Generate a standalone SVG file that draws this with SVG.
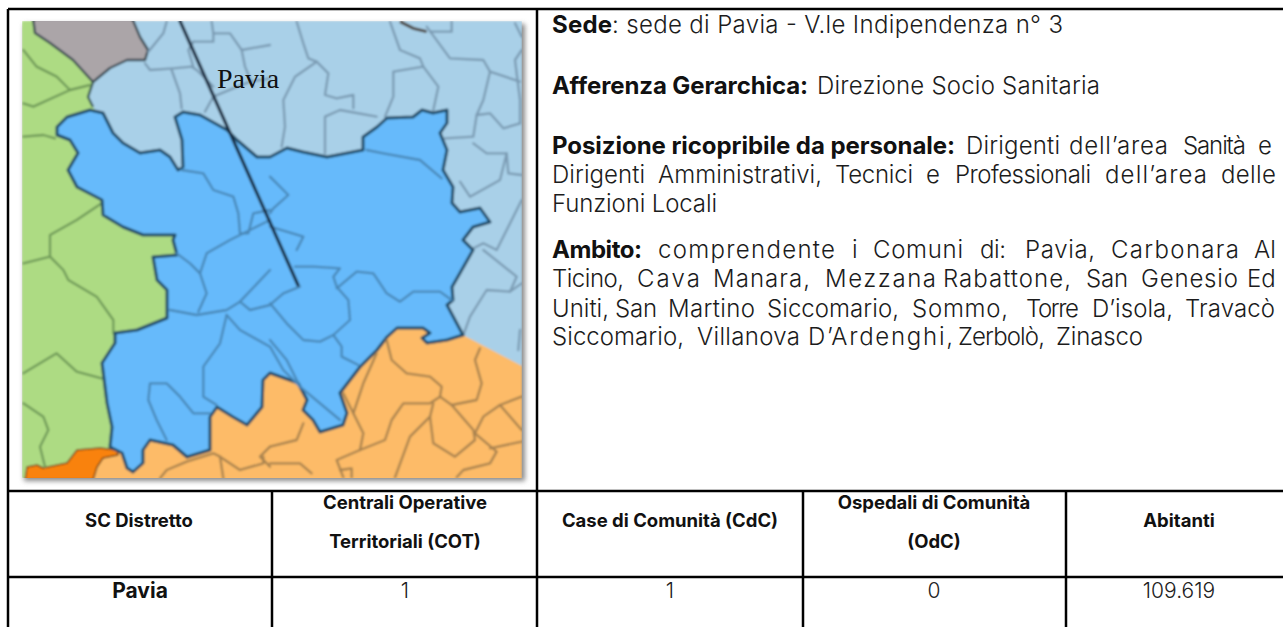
<svg xmlns="http://www.w3.org/2000/svg" width="1283" height="627" viewBox="0 0 1283 627">
<defs>
<filter id="soft" x="-5%" y="-5%" width="110%" height="110%"><feGaussianBlur stdDeviation="0.8"/></filter>
<filter id="shadow" x="-5%" y="-5%" width="110%" height="110%"><feGaussianBlur stdDeviation="2.5"/></filter>
<clipPath id="mapclip"><rect x="22" y="21" width="500" height="457"/></clipPath>
</defs>
<style>
.t{font-family:"Inter","Liberation Sans",sans-serif;font-size:24px;fill:#1c1c1c;font-weight:300}
.b{font-weight:700;fill:#111;font-size:24px}
.h{font-family:"Inter","Liberation Sans",sans-serif;font-size:18.5px;font-weight:700;fill:#111;text-anchor:middle}
.v{font-family:"Inter","Liberation Sans",sans-serif;font-size:21px;font-weight:300;fill:#222;text-anchor:middle}
.g{stroke:#000;stroke-width:2.5;fill:none}
.l{fill:none;stroke-width:7;stroke-linejoin:round;stroke-linecap:round}
.lb{stroke:#7b9bb3}.bl{stroke:#4a88b8}.gr{stroke:#6f9a58}.or{stroke:#a8824f}
</style>
<rect width="1283" height="627" fill="#fff"/>
<g id="map">
<rect x="24" y="24" width="501" height="457" fill="#8a8a8a" filter="url(#shadow)"/>
<g clip-path="url(#mapclip)"><g filter="url(#soft)">
<rect x="22" y="21" width="500" height="457" fill="#a9d0e8"/>
<polygon fill="#addb83" points="22,21 33,21 35,33 50,43 73,60 93,82 88,97 93,107 200,250 120,447 100,478 22,478"/>
<polygon fill="#aba5a8" stroke="#3b4a52" stroke-width="2.4" stroke-linejoin="round" points="33,18 35,33 50,43 73,60 93,82 110,68 127,60 145,60 148,50 140,37 132,18"/>
<polygon fill="#fdbb67" points="93,480 97,467 103,458 118,450 150,430 250,360 420,320 463,335 522,366 522,480"/>
<polygon fill="#f9820f" stroke="#7a4a10" stroke-width="1.5" stroke-linejoin="round" points="27,467 37,465 43,468 67,463 77,450 100,448 117,450 118,455 103,458 97,467 93,480 25,480"/>
<path d="M93,82 L88,97 L93,107" fill="none" stroke="#3b5a55" stroke-width="2.4"/>
<g transform="scale(.33333)">
<g class="l lb">
<path d="M500,65 490,100 445,155"/>
<path d="M435,190 450,210 520,205 575,200 590,210 640,260"/>
<path d="M515,210 540,280 545,325"/>
<path d="M615,335 640,290 700,265 750,245 810,235"/>
<path d="M580,125 640,125 640,100 635,65"/>
<path d="M640,100 690,100 725,150 810,135"/>
<path d="M725,150 735,200 760,260"/>
<path d="M580,125 565,150 580,200"/>
</g>
<g class="l gr">
<path d="M70,150 110,200 170,230 210,270"/>
<path d="M70,310 100,320 210,270 270,255"/>
<path d="M70,410 130,405 165,415"/>
<path d="M305,610 230,660 150,705 150,750 150,770 70,790"/>
<path d="M150,770 190,810 205,840 290,890 340,960 340,1000"/>
<path d="M70,1120 170,1060 230,1115 305,1135"/>
<path d="M70,1210 130,1250 145,1290 120,1340 135,1400"/>
</g>
</g>
<g transform="translate(270,0) scale(.33333)">
<g class="l lb">
<path d="M80,65 100,130 115,175 140,185 75,230 40,300 45,380 35,440"/>
<path d="M140,185 175,220 165,285 200,295 250,285 250,325"/>
<path d="M165,460 165,350 210,330 320,350"/>
<path d="M360,65 390,150 450,175 460,200 370,215 370,290 345,350"/>
<path d="M460,200 505,260 490,330"/>
<path d="M480,95 545,95 545,65"/>
<path d="M470,80 540,175 640,180 660,215 640,300 620,345 660,340 700,385 750,370"/>
<path d="M660,215 750,245"/>
<path d="M620,345 610,410 525,415"/>
<path d="M610,430 650,460 710,460 715,520 755,525"/>
<path d="M710,460 690,540 600,590 570,545"/>
<path d="M755,600 730,650 680,750 640,730 600,750"/>
<path d="M735,70 755,110"/>
<path d="M755,150 735,180 750,300 750,370"/>
</g>
<path d="M390,65 430,85 470,95" fill="none" stroke="#4a4038" stroke-width="9"/>
</g>
<g transform="translate(270,240) scale(.33333)">
<g class="l lb">
<path d="M640,30 740,110 720,155 650,150 600,230 580,285"/>
<path d="M720,155 755,130"/>
<path d="M750,270 745,330"/>
</g>
</g>
<polygon fill="#66bafb" stroke="#1d4a66" stroke-width="3" stroke-linejoin="round" points="57,127 67,117 90,110 103,113 113,133 123,143 140,153 160,150 170,157 178,170 183,167 182,140 175,117 183,112 200,115 227,130 237,140 257,157 270,157 287,148 303,152 327,157 363,150 363,137 377,127 387,118 413,117 422,110 433,113 447,110 447,123 440,133 447,150 443,170 453,187 452,203 460,212 480,208 490,222 473,227 463,240 473,250 460,273 452,287 453,300 447,305 463,335 447,340 427,343 422,338 430,333 423,328 397,328 387,337 377,350 360,367 340,393 347,413 343,425 320,432 313,420 303,410 307,400 298,383 270,373 263,380 262,407 247,425 233,417 217,407 210,417 210,450 187,457 173,445 150,440 143,450 143,463 133,472 127,468 122,453 110,447 112,427 107,403 102,363 115,343 115,333 137,330 167,318 167,290 157,280 153,257 177,255 173,240 175,235 143,235 123,227 103,215 102,200 77,187 68,170 78,153 70,140 57,135"/>
<g class="l bl" transform="scale(.33333)">
<path d="M545,510 610,520 640,570 700,590 715,640 720,700 745,700 760,640 810,630"/>
<path d="M530,760 570,790 600,820 620,880 595,935"/>
<path d="M600,820 620,760 690,720 810,660"/>
<path d="M510,930 590,945 680,930 720,905 810,810"/>
<path d="M720,905 750,930 810,915 850,880 900,860"/>
<path d="M680,945 660,1030 610,1100 610,1190 650,1215"/>
<path d="M680,945 720,990 810,1040 850,1110 900,1160 1020,1260"/>
<path d="M630,1240 580,1240 540,1190 500,1150 450,1150 445,1200 470,1260 500,1320"/>
</g>
<g class="l bl" transform="translate(270,0) scale(.33333)">
<path d="M290,450 340,460 450,480 515,535"/>
<path d="M0,530 55,585 10,625 0,640"/>
<path d="M0,680 100,710 80,750"/>
</g>
<g class="l bl" transform="translate(270,240) scale(.33333)">
<path d="M0,190 50,250 100,300 150,305 190,285 240,240 235,180 200,140 190,110 210,85 130,80 75,80"/>
<path d="M200,145 260,95 310,100 350,160 390,185 430,155 510,155 545,180"/>
<path d="M190,285 215,320 215,350 265,375"/>
<path d="M0,300 50,360 85,430"/>
</g>
<g class="l or" transform="translate(270,240) scale(.33333)">
<path d="M350,300 365,360 410,400 480,410 515,440 510,470 480,490 400,490 365,540 345,600 270,630 200,660 220,712"/>
<path d="M320,340 280,430 250,520 280,580 270,630"/>
<path d="M220,460 250,520"/>
<path d="M510,470 545,495 620,480 635,430 615,360 630,325"/>
<path d="M545,495 610,570 615,600 555,650 490,610 480,530 490,490"/>
<path d="M480,530 420,590 375,712"/>
<path d="M615,580 640,530 690,495 755,470"/>
<path d="M690,495 755,570"/>
<path d="M615,580 680,635 660,670 580,690 560,712"/>
<path d="M660,625 755,605"/>
<path d="M0,620 80,600 100,550"/>
<path d="M0,670 90,670 125,700"/>
<path d="M210,690 245,685 245,712"/>
</g>
<g class="l or" transform="scale(.33333)">
<path d="M790,1370 790,1390 720,1410 660,1370 640,1360 560,1385 500,1410 480,1435"/>
<path d="M660,1370 670,1435"/>
<path d="M810,1340 780,1370 810,1400"/>
</g>
<line x1="180" y1="21" x2="298" y2="285" stroke="#12283c" stroke-width="3.2" stroke-linecap="round"/>
</g></g>
<text x="217" y="88" font-family="'Liberation Serif',serif" font-size="28" fill="#111">Pavia</text>
</g>
<g id="description">
<text class="t" y="33"><tspan class="b" x="552" textLength="60">Sede</tspan><tspan x="612" textLength="451">: sede di Pavia - V.le Indipendenza n° 3</tspan></text>
<text class="t" y="94"><tspan class="b" x="552" textLength="256">Afferenza Gerarchica:</tspan> <tspan x="817" textLength="283">Direzione Socio Sanitaria</tspan></text>
<text class="t" y="154"><tspan class="b" x="552" textLength="403">Posizione ricopribile da personale:</tspan> <tspan x="966" textLength="94">Dirigenti</tspan> <tspan x="1069" textLength="99">dell’area</tspan> <tspan x="1183" textLength="63">Sanità</tspan> <tspan x="1258" textLength="17">e</tspan></text>
<text class="t" y="183"><tspan x="552" textLength="93">Dirigenti</tspan> <tspan x="658" textLength="164">Amministrativi,</tspan> <tspan x="835" textLength="78">Tecnici</tspan> <tspan x="926" textLength="19">e</tspan> <tspan x="955" textLength="136">Professionali</tspan> <tspan x="1105" textLength="102">dell’area</tspan> <tspan x="1221" textLength="55">delle</tspan></text>
<text class="t" x="552" y="212" textLength="165">Funzioni Locali</text>
<text class="t" y="258"><tspan class="b" x="552" textLength="90">Ambito:</tspan> <tspan x="658" textLength="177">comprendente</tspan> <tspan x="852">i</tspan> <tspan x="873" textLength="90">Comuni</tspan> <tspan x="980" textLength="26">di:</tspan> <tspan x="1025" textLength="70">Pavia,</tspan> <tspan x="1111" textLength="128">Carbonara</tspan> <tspan x="1254">Al</tspan></text>
<text class="t" y="287"><tspan x="552" textLength="72">Ticino,</tspan> <tspan x="637" textLength="63">Cava</tspan> <tspan x="713" textLength="97">Manara,</tspan> <tspan x="825" textLength="111">Mezzana</tspan> <tspan x="943" textLength="128">Rabattone,</tspan> <tspan x="1086" textLength="42">San</tspan> <tspan x="1141" textLength="97">Genesio</tspan> <tspan x="1247">Ed</tspan></text>
<text class="t" y="317"><tspan x="552" textLength="57">Uniti,</tspan> <tspan x="615" textLength="42">San</tspan> <tspan x="668" textLength="87">Martino</tspan> <tspan x="767" textLength="132">Siccomario,</tspan> <tspan x="912" textLength="96">Sommo,</tspan> <tspan x="1026" textLength="53">Torre</tspan> <tspan x="1092" textLength="81">D’isola,</tspan> <tspan x="1185" textLength="90">Travacò</tspan></text>
<text class="t" y="345"><tspan x="552" textLength="132">Siccomario,</tspan> <tspan x="697" textLength="103">Villanova</tspan> <tspan x="808" textLength="145">D’Ardenghi,</tspan> <tspan x="958" textLength="87">Zerbolò,</tspan> <tspan x="1056" textLength="87">Zinasco</tspan></text>
</g>
<g id="table">
<path class="g" d="M8,9H1283M8,9V627M537,9V627M8,491H1283M8,577H1283M272,491V627M803,491V627M1066,491V627"/>
<text class="h" x="139" y="527">SC Distretto</text>
<text class="h" x="405" y="509">Centrali Operative</text>
<text class="h" x="405" y="548">Territoriali (COT)</text>
<text class="h" x="670" y="527">Case di Comunità (CdC)</text>
<text class="h" x="934" y="509">Ospedali di Comunità</text>
<text class="h" x="934" y="548">(OdC)</text>
<text class="h" x="1179" y="527">Abitanti</text>
<text class="h" x="140" y="598" style="font-size:21px">Pavia</text>
<text class="v" x="405" y="598">1</text>
<text class="v" x="670" y="598">1</text>
<text class="v" x="934" y="598">0</text>
<text class="v" x="1179" y="598">109.619</text>
</g>
</svg>
